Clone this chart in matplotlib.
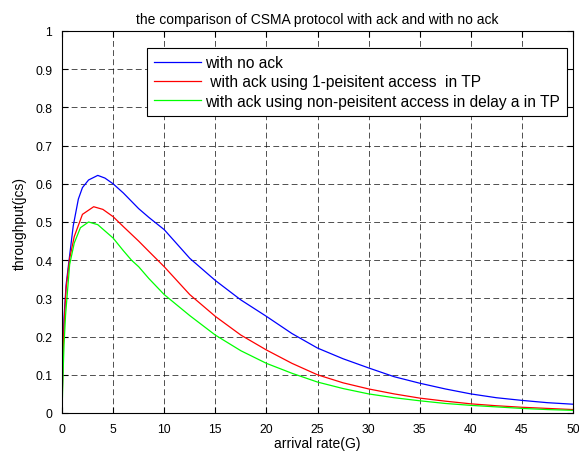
import matplotlib
matplotlib.use("Agg")
import matplotlib.pyplot as plt

plt.rcParams['font.family'] = ['Liberation Sans', 'DejaVu Sans']

g_blue = [0, 0.1, 0.2, 0.4, 0.75, 1.1, 1.6, 2.0, 2.6, 3.5, 4.2, 5, 6, 7.5, 8.5, 10, 12.5, 15,
          17.5, 20, 22.5, 25, 27.5, 30, 32.5, 35, 37.5, 40, 42.5, 45, 47.5, 50]
s_blue = [0, 0.18, 0.25, 0.335, 0.413, 0.49, 0.56, 0.59, 0.61, 0.622, 0.615, 0.60, 0.576,
          0.535, 0.512, 0.48, 0.405, 0.347, 0.296, 0.253, 0.208, 0.170, 0.142, 0.118, 0.095,
          0.078, 0.063, 0.05, 0.040, 0.033, 0.027, 0.023]

g_red = [0, 0.1, 0.2, 0.4, 0.75, 1.2, 2.0, 3.1, 4.0, 5, 6, 7.5, 8.5, 10, 12.5, 15, 17.5, 20,
         22.5, 25, 27.5, 30, 32.5, 35, 37.5, 40, 42.5, 45, 47.5, 50]
s_red = [0, 0.15, 0.23, 0.326, 0.405, 0.462, 0.52, 0.54, 0.533, 0.514, 0.488, 0.45, 0.423,
         0.383, 0.31, 0.253, 0.204, 0.165, 0.13, 0.100, 0.079, 0.063, 0.050, 0.039, 0.031,
         0.024, 0.019, 0.015, 0.012, 0.009]

g_green = [0, 0.1, 0.2, 0.35, 0.75, 1.2, 1.8, 2.6, 3.5, 5, 6, 6.8, 7.5, 8.5, 10, 12.5, 15,
           17.5, 20, 22.5, 25, 27.5, 30, 32.5, 35, 37.5, 40, 42.5, 45, 47.5, 50]
s_green = [0, 0.10, 0.18, 0.257, 0.389, 0.445, 0.485, 0.50, 0.493, 0.458, 0.425, 0.40, 0.383,
           0.352, 0.31, 0.255, 0.204, 0.163, 0.130, 0.104, 0.081, 0.064, 0.050, 0.040, 0.032,
           0.025, 0.020, 0.016, 0.012, 0.009, 0.007]

labels = ["with no ack",
          " with ack using 1-peisitent access  in TP",
          "with ack using non-peisitent access in delay a in TP"]

xticks = list(range(0, 51, 5))
yticks = [0, 0.1, 0.2, 0.3, 0.4, 0.5, 0.6, 0.7, 0.8, 0.9, 1]
ytick_labels = ["0", "0.1", "0.2", "0.3", "0.4", "0.5", "0.6", "0.7", "0.8", "0.9", "1"]

fig = plt.figure(figsize=(5.79, 4.52), dpi=100)
ax = fig.add_axes([62/579, 1 - 414/452, (573-62)/579, (414-32)/452])

ax.plot(g_blue, s_blue, color='#0000ff', lw=0.9, label=labels[0])
ax.plot(g_red, s_red, color='#ff0000', lw=0.9, label=labels[1])
ax.plot(g_green, s_green, color='#00ff00', lw=0.9, label=labels[2])

ax.set_xlim(0, 50)
ax.set_ylim(0, 1)
ax.set_xticks(xticks)
ax.set_yticks(yticks)
ax.set_yticklabels(ytick_labels)
ax.tick_params(direction='in', top=True, right=True, labelsize=8.8, length=4, width=0.8, pad=7)
ax.grid(True, color='black', linestyle=(0, (7, 4)), linewidth=0.6, alpha=0.8)
for s in ax.spines.values():
    s.set_linewidth(0.8)

ax.set_title("the comparison of CSMA protocol with ack and with no ack", fontsize=10, pad=6)
ax.set_xlabel("arrival rate(G)", fontsize=10, labelpad=1)
ax.set_ylabel("throughput(jcs)", fontsize=10, labelpad=6)

leg = ax.legend(loc='upper right', bbox_to_anchor=(0.989, 0.955), fontsize=11.2, frameon=True,
                fancybox=False, edgecolor='black', framealpha=1, handlelength=3.0,
                borderaxespad=0, labelspacing=0.27, handletextpad=0.3, borderpad=0.45)
leg.get_frame().set_linewidth(0.8)

fig.savefig("out.png", dpi=100)
